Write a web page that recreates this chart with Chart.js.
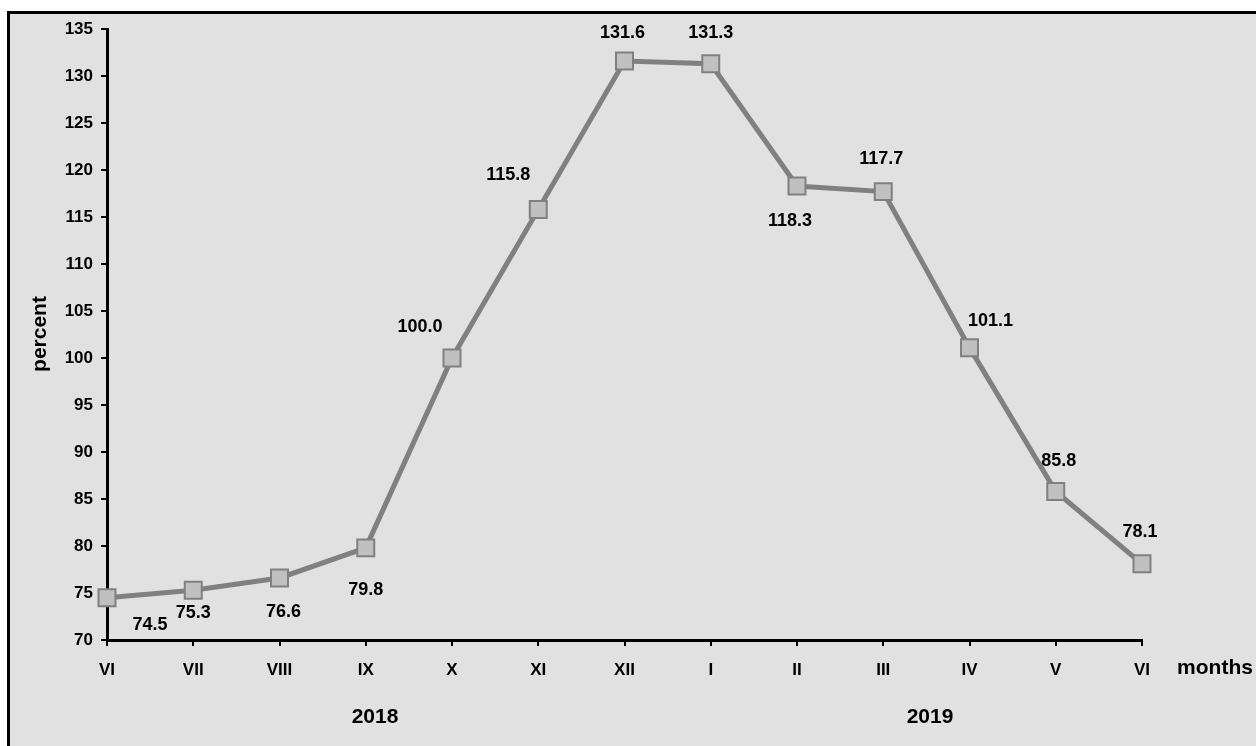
<!DOCTYPE html>
<html>
<head>
<meta charset="utf-8">
<script src="https://cdn.jsdelivr.net/npm/chart.js@4"></script>
<style>
  html, body { margin: 0; padding: 0; background: #fff; }
  #wrap { width: 1256px; height: 746px; }
</style>
</head>
<body>
<div id="wrap"><canvas id="myChart" width="1256" height="746"></canvas></div>
<script>
var months = ['VI','VII','VIII','IX','X','XI','XII','I','II','III','IV','V','VI'];
var values = [74.5, 75.3, 76.6, 79.8, 100.0, 115.8, 131.6, 131.3, 118.3, 117.7, 101.1, 85.8, 78.1];
var yearLabels = ['2018', '2019'];
var yMin = 70, yMax = 135, yStep = 5;

// where each value label sits relative to its point (px)
var labelOffsets = [[43,27],[0,23],[4,34],[0,42],[-32,-31],[-30,-34],[-2,-28],[0,-31],[-7,35],[-2,-33],[21,-27],[3,-30],[-2,-32]];

var FAMILY = '"Liberation Sans", Arial, sans-serif';

var frame = {
  id: 'frame',
  beforeDraw: function(chart) {
    var ctx = chart.ctx;
    ctx.save();
    ctx.fillStyle = '#fff';
    ctx.fillRect(0, 0, chart.width, chart.height);
    ctx.fillStyle = '#e1e1e1';
    ctx.fillRect(8, 12, chart.width, chart.height);
    ctx.fillStyle = '#000';
    ctx.fillRect(7, 11, chart.width, 3);
    ctx.fillRect(7, 11, 3, chart.height);
    ctx.restore();
  },
  afterDatasetsDraw: function(chart) {
    var ctx = chart.ctx;
    var meta = chart.getDatasetMeta(0);
    ctx.save();
    ctx.fillStyle = '#000';
    ctx.textAlign = 'center';
    ctx.textBaseline = 'middle';
    ctx.font = 'bold 18px ' + FAMILY;
    meta.data.forEach(function(pt, i) {
      var o = labelOffsets[i];
      ctx.fillText(values[i].toFixed(1), pt.x + o[0], pt.y + o[1]);
    });
    // axis titles
    ctx.font = 'bold 21px ' + FAMILY;
    ctx.fillText('months', 1215, 668);
    ctx.fillText(yearLabels[0], 375, 717);
    ctx.fillText(yearLabels[1], 930, 717);
    ctx.translate(40, 334);
    ctx.rotate(-Math.PI / 2);
    ctx.fillText('percent', 0, 0);
    ctx.restore();
  }
};

new Chart('myChart', {
  type: 'line',
  data: {
    labels: months,
    datasets: [{
      data: values,
      borderColor: '#808080',
      borderWidth: 5,
      pointStyle: 'rect',
      pointRadius: 12,
      pointBackgroundColor: '#c0c0c0',
      pointBorderColor: '#808080',
      pointBorderWidth: 2,
      tension: 0,
      clip: false
    }]
  },
  plugins: [frame],
  options: {
    responsive: false,
    animation: false,
    layout: { padding: { left: 0, top: 29, right: 114, bottom: 0 } },
    plugins: { legend: { display: false }, tooltip: { enabled: false } },
    scales: {
      x: {
        offset: false,
        grid: { display: true, drawOnChartArea: false, drawTicks: true, tickLength: 6, color: '#000', lineWidth: 2 },
        border: { display: true, color: '#000', width: 3 },
        ticks: { color: '#000', font: { family: FAMILY, size: 17, weight: 'bold' }, padding: 14, maxRotation: 0, autoSkip: false },
        afterFit: function(s) { s.height = 106; }
      },
      y: {
        min: yMin, max: yMax,
        grid: { display: true, drawOnChartArea: false, drawTicks: true, tickLength: 6, color: '#000', lineWidth: 2 },
        border: { display: true, color: '#000', width: 3 },
        ticks: { stepSize: yStep, color: '#000', font: { family: FAMILY, size: 17, weight: 'bold' }, padding: 8 },
        afterFit: function(s) { s.width = 107; }
      }
    }
  }
});
</script>
</body>
</html>
